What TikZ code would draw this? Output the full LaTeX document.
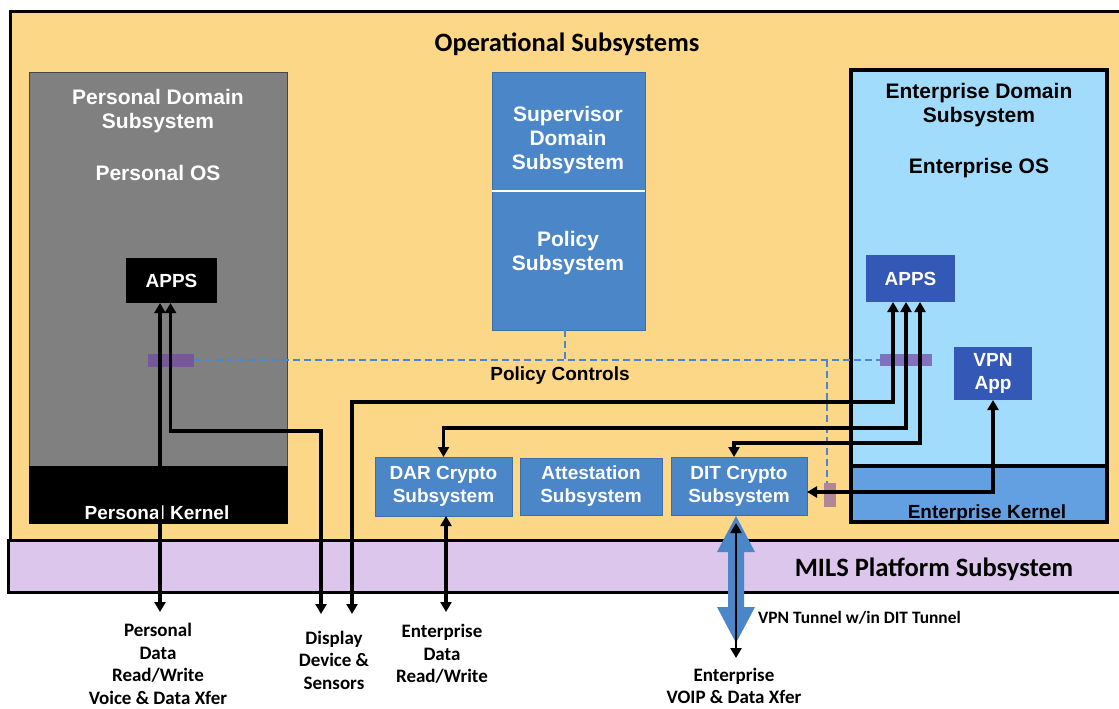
\documentclass[tikz,border=0pt]{standalone}
\usepackage{fontspec}
\setmainfont{Liberation Sans}
\newfontfamily\calfont{Carlito}
\usetikzlibrary{arrows.meta}
\definecolor{opyellow}{RGB}{251,215,135}
\definecolor{milsviolet}{RGB}{220,198,235}
\definecolor{pgray}{RGB}{128,128,128}
\definecolor{pgrayedge}{RGB}{70,70,70}
\definecolor{entlight}{RGB}{161,220,252}
\definecolor{entkern}{RGB}{98,160,226}
\definecolor{midblue}{RGB}{74,134,200}
\definecolor{midblueedge}{RGB}{60,110,170}
\definecolor{darkblue}{RGB}{52,88,182}
\definecolor{dashblue}{RGB}{74,134,210}
\definecolor{tagpurple}{RGB}{115,70,165}
\tikzset{
  box/.style={anchor=north west, inner sep=0pt, outer sep=0pt},
  bluebox/.style={box, fill=midblue, draw=midblueedge, line width=1pt},
  tag/.style={box, fill=tagpurple, fill opacity=0.7},
  arr/.style={line width=3.2pt, {Triangle[length=10pt,width=11pt]}-{Triangle[length=10pt,width=11pt]}},
  wtxt/.style={text=white, font=\bfseries\fontsize{19}{23}\selectfont, align=center, inner sep=0pt},
  bigw/.style={text=white, font=\bfseries\fontsize{21}{24}\selectfont, align=center, inner sep=0pt},
  bigk/.style={text=black, font=\bfseries\fontsize{21}{24}\selectfont, align=center, inner sep=0pt},
  ktxt/.style={text=black, font=\bfseries\fontsize{19}{23}\selectfont, align=center, inner sep=0pt},
  lbl/.style={font=\calfont\bfseries\fontsize{19}{22.5}\selectfont, align=center, inner sep=0pt},
  title/.style={font=\calfont\bfseries\fontsize{26.5}{30}\selectfont, inner sep=0pt},
  ctrl/.style={dashblue, line width=1.8pt, dash pattern=on 7pt off 4pt},
}
\begin{document}
\begin{tikzpicture}[x=1pt,y=-1pt]
\clip (0,0) rectangle (1119,709);
\fill[white] (0,0) rectangle (1119,709);
% main containers
\node[box, fill=opyellow, draw=black, line width=3pt, minimum width=1130pt, minimum height=528pt] (ops) at (10,12) {};
\node[box, fill=milsviolet, draw=black, line width=3pt, minimum width=1130pt, minimum height=52pt] (mils) at (8,540) {};
\node[title] (opstitle) at (567,44) {Operational Subsystems};
\node[title] (milstitle) at (934,569) {MILS Platform Subsystem};
% personal domain
\node[box, fill=pgray, draw=pgrayedge, line width=1pt, minimum width=258pt, minimum height=393pt] (pdom) at (29,73) {};
\node[box, fill=black, minimum width=259pt, minimum height=58pt] (pkern) at (29,466) {};
\node[bigw] (pdomtxt) at (158,111) {Personal Domain\\Subsystem};
\node[bigw] (postxt) at (158,173) {Personal OS};
\node[wtxt] (pkerntxt) at (157,513) {Personal Kernel};
\node[box, fill=black, minimum width=91pt, minimum height=45pt] (papps) at (126,258) {};
\node[wtxt] at (papps.center) {APPS};
% supervisor / policy
\node[bluebox, minimum width=153pt, minimum height=118pt] (sup) at (492,73) {};
\node[bluebox, minimum width=153pt, minimum height=139pt] (pol) at (492,191) {};
\draw[white, line width=1.2pt] (sup.south west) -- (sup.south east);
\node[bigw] (suptxt) at (568,140) {Supervisor\\Domain\\Subsystem};
\node[bigw] (poltxt) at (568,253) {Policy\\Subsystem};
% enterprise domain
\node[box, fill=entlight, draw=black, line width=4pt, minimum width=256pt, minimum height=396pt] (edom) at (851,70) {};
\node[box, fill=entkern, draw=black, line width=4pt, minimum width=256pt, minimum height=56pt] (ekern) at (851,466) {};
\node[bigk] (edomtxt) at (979,105) {Enterprise Domain\\Subsystem};
\node[bigk] (eostxt) at (979,168) {Enterprise OS};
\node[ktxt] (ekerntxt) at (987,514) {Enterprise Kernel};
\node[box, fill=darkblue, minimum width=89pt, minimum height=47pt] (eapps) at (866,255) {};
\node[wtxt] at (eapps.center) {APPS};
\node[box, fill=darkblue, minimum width=78pt, minimum height=53pt] (vpn) at (954,347) {};
\node[wtxt] at (vpn.center) {VPN\\App};
% crypto / attestation
\node[bluebox, minimum width=137pt, minimum height=59pt] (dar) at (375,457) {};
\node[wtxt] at (dar.center) {DAR Crypto\\Subsystem};
\node[bluebox, minimum width=142pt, minimum height=57pt] (att) at (520,458) {};
\node[wtxt] at (att.center) {Attestation\\Subsystem};
\node[bluebox, minimum width=136pt, minimum height=58pt] (dit) at (671,457) {};
\node[wtxt] at (dit.center) {DIT Crypto\\Subsystem};
% policy controls
\node[box, tag, minimum width=46pt, minimum height=13pt] (ptag) at (148,353.5) {};
\node[box, tag, minimum width=52pt, minimum height=12pt] (etag) at (880,354) {};
\node[box, tag, fill opacity=0.55, minimum width=12pt, minimum height=24pt] (dtag) at (824,483) {};
\coordinate (polfoot) at (565,360);
\coordinate (dbranch) at (827,360);
\draw[ctrl] (ptag.east) -- (etag.west);
\draw[ctrl] (pol.south -| polfoot) -- (polfoot);
\draw[ctrl] (dbranch) -- (dtag.north -| dbranch);
\node[font=\bfseries\fontsize{19}{22}\selectfont, inner sep=0pt] (polctl) at (560,376) {Policy Controls};
% end points
\coordinate (pdEnd) at (160,612);
\coordinate (dsEndA) at (321,614);
\coordinate (dsEndB) at (352,614);
\coordinate (edEnd) at (446,612);
\coordinate (voipEnd) at (736,658);
% arrows
\draw[arr] ([xshift=-11.5pt]papps.south) -- (pdEnd);
\draw[arr] ([xshift=-1pt]papps.south) -- ++(0,128) -| (dsEndA);
\draw[arr] ([xshift=-17.5pt]eapps.south) -- ++(0,100) -| (dsEndB);
\draw[arr] ([xshift=-4.5pt]eapps.south) -- ++(0,126) -| (dar.north);
\draw[arr] ([xshift=9.5pt]eapps.south) -- ++(0,141) -| ([xshift=-5pt]dit.north);
\draw[arr] (vpn.south) |- ([yshift=-6pt]dit.east);
\draw[arr] ([xshift=2.5pt]dar.south) -- (edEnd);
% DIT tunnel
\fill[midblue] (736,516) -- (755,552) -- (744,552) -- (744,607) -- (755,607) -- (736,643)
  -- (717,607) -- (728,607) -- (728,552) -- (717,552) -- cycle;
\draw[arr, line width=2.6pt] ([xshift=-3pt,yshift=-8pt]dit.south) -- (voipEnd);
\node[lbl, anchor=west, font=\calfont\bfseries\fontsize{17.4}{20}\selectfont] (tunnel) at (758,618) {VPN Tunnel w/in DIT Tunnel};
% bottom labels
\node[lbl] (pdlbl) at (158,664) {Personal\\Data\\Read/Write\\Voice \& Data Xfer};
\node[lbl] (dslbl) at (334,660) {Display\\Device \&\\Sensors};
\node[lbl] (edlbl) at (442,654) {Enterprise\\Data\\Read/Write};
\node[lbl] (voiplbl) at (734,686) {Enterprise\\VOIP \& Data Xfer};
\end{tikzpicture}
\end{document}
